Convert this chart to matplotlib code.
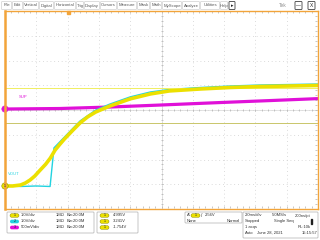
import matplotlib.pyplot as plt
from matplotlib.patches import FancyBboxPatch, Rectangle, Circle

# scope settings
TDIV = 2.0          # ms/div
T0 = -4.0           # ms at left edge of graticule
CH_VDIV = {1: 1.0, 2: 1.0, 3: 0.5}      # V/div
CH_POS = {1: -3.07, 2: -3.07, 3: 0.04}  # ground position, div
TRIG_LEVEL = 2.56
CURSOR_LEVEL = 3.96

# traces (ms, V)
t_ch1 = [-4.0, -3.5, -3.0, -2.7, -2.4, -2.1, -1.8, -1.4, -1.1, -0.8, -0.5,
         -0.2, 0.3, 0.8, 1.3, 1.8, 2.7, 4.0, 5.3, 6.5, 8.5, 10.4, 12.3, 14.2, 16.0]
v_ch1 = [0.0, 0.0, 0.04, 0.12, 0.24, 0.40, 0.61, 0.88, 1.13, 1.45, 1.68,
         1.90, 2.23, 2.55, 2.80, 2.99, 3.23, 3.52, 3.72, 3.84, 3.92, 3.98, 4.02, 4.04, 4.06]

t_ch2 = [-4.0, -3.0, -2.0, -1.12, -0.87, -0.2, 0.8, 1.8, 2.7, 4.0, 5.3, 6.5,
         8.5, 10.4, 12.3, 14.2, 16.0]
v_ch2 = [0.0, -0.02, 0.0, -0.02, 1.54, 1.98, 2.63, 3.07, 3.31, 3.60, 3.80, 3.90,
         3.98, 4.04, 4.08, 4.10, 4.12]

t_ch3 = [-4.0, -0.5, 2.7, 5.9, 9.7, 12.9, 16.0]
v_ch3 = [0.0, 0.01, 0.04, 0.08, 0.13, 0.17, 0.21]

menu_items = ["File", "Edit", "Vertical", "Digital", "Horizontal", "Trig", "Display",
              "Cursors", "Measure", "Mask", "Math", "MyScope", "Analyze", "Utilities", "Help"]
menu_edges = [1, 12, 23, 39, 54, 76, 84, 100, 117, 137, 150, 162, 182, 200, 220, 228]

ch_labels = ["1.0V/div", "1.0V/div", "500mV/div"]
meas_values = ["4.995V", "3.241V", "-1.754V"]

COL = {1: "#ECE000", 2: "#22D3E0", 3: "#E010D8"}
ORANGE = "#F2A43A"
FONT = ["Liberation Sans", "DejaVu Sans"]

fig = plt.figure(figsize=(3.2, 2.4), dpi=100)
fig.patch.set_facecolor("white")
rect = [5 / 320, 31 / 240, 313 / 320, 198 / 240]

# graticule
grid = fig.add_axes(rect)
grid.set_xlim(-5, 5)
grid.set_ylim(-4, 4)
grid.set_xticks(range(-5, 6))
grid.set_yticks(range(-4, 5))
grid.grid(True, color="#CFCFCF", linestyle=(0, (1, 3.5)), linewidth=0.6)
grid.tick_params(length=0, labelbottom=False, labelleft=False)
for s in grid.spines.values():
    s.set_visible(False)
grid.axhline(0, color="#D8D8D8", lw=0.5)
grid.axvline(0, color="#D8D8D8", lw=0.5)
minor = [i / 5 for i in range(-25, 26)]
grid.plot(minor, [0] * len(minor), "|", color="#B0B0B0", ms=2.0, mew=0.5)
minor_y = [i / 5 for i in range(-20, 21)]
grid.plot([0] * len(minor_y), minor_y, "_", color="#B0B0B0", ms=2.0, mew=0.5)
grid.plot(minor, [3.97] * len(minor), "|", color="#B0B0B0", ms=1.6, mew=0.5)
grid.plot(minor, [-3.93] * len(minor), "|", color="#B0B0B0", ms=1.6, mew=0.5)
grid.plot([4.95] * len(minor_y), minor_y, "_", color="#B0B0B0", ms=1.6, mew=0.5)


def chan_axes(ch, z):
    a = fig.add_axes(rect, facecolor="none", label="ch%d" % ch, zorder=z)
    a.set_xlim(T0, T0 + 10 * TDIV)
    a.set_ylim((-4 - CH_POS[ch]) * CH_VDIV[ch], (4 - CH_POS[ch]) * CH_VDIV[ch])
    a.axis("off")
    return a


a3 = chan_axes(3, 2)
a3.plot(t_ch3, v_ch3, color=COL[3], lw=2.3, solid_capstyle="butt")
a2 = chan_axes(2, 3)
a2.plot(t_ch2, v_ch2, color=COL[2], lw=1.0)
a1 = chan_axes(1, 4)
a1.axhline(CURSOR_LEVEL, color="#F0EE60", lw=0.7)
a1.axhline(TRIG_LEVEL, color="#C9C66A", lw=0.7)
a1.plot(t_ch1, v_ch1, color=COL[1], lw=2.6, solid_capstyle="butt")

# overlay in screen pixels
ov = fig.add_axes([0, 0, 1, 1], facecolor="none", zorder=10)
ov.set_xlim(0, 320)
ov.set_ylim(240, 0)
ov.axis("off")


def txt(x, y, s, color="#303030", size=3.3, ha="left", weight="normal"):
    ov.text(x, y, s, fontsize=size, color=color, ha=ha, va="center",
            family=FONT, weight=weight)


def box(x0, y0, x1, y1, ec="#B0B0B0", fc="white", lw=0.5, r=0.8):
    ov.add_patch(FancyBboxPatch((x0, y0), x1 - x0, y1 - y0,
                                boxstyle="round,pad=0,rounding_size=%g" % r,
                                ec=ec, fc=fc, lw=lw))


def badge(x, y, n, col):
    ov.add_patch(FancyBboxPatch((x, y - 1.8), 9, 3.6,
                                boxstyle="round,pad=0,rounding_size=1.8",
                                ec="#808000" if n == 1 else "none", fc=col, lw=0.3))
    txt(x + 4.5, y, str(n), color="#202020", size=2.6, ha="center")


# menu bar
for lab, x0, x1 in zip(menu_items, menu_edges[:-1], menu_edges[1:]):
    box(x0 + 0.5, 1.5, x1 - 0.5, 9.5, ec="#D0D0D0")
    txt((x0 + x1) / 2, 5.5, lab, ha="center", size=3.1, color="#555555")
box(229, 1.5, 235, 9.5, ec="#404040", lw=0.6)
txt(232, 5.5, "▸", ha="center", size=3.5, color="#202020")
txt(283, 5.5, "Tek", ha="center", size=3.5, color="#909090")
box(295, 1.5, 302, 9.5, ec="#404040", lw=0.6)
txt(298.5, 5.8, "—", ha="center", size=3.5, color="#202020")
box(308, 1.5, 315, 9.5, ec="#404040", lw=0.6)
txt(311.5, 5.5, "X", ha="center", size=3.5, color="#202020")

# graticule frame
ov.plot([5, 318], [11, 11], color=ORANGE, lw=1.0)
ov.plot([5, 318], [209, 209], color=ORANGE, lw=1.0)
ov.plot([318, 318], [11, 209], color=ORANGE, lw=1.0)
ov.plot([5, 5], [11, 209], color=ORANGE, lw=1.8)
ov.add_patch(Rectangle((66.5, 10.5), 3, 3, color=ORANGE))

# ground markers and trace labels
for y, col, n in [(109, COL[3], "3"), (186, COL[1], "1")]:
    ov.add_patch(Circle((5, y), 3.2, fc=col, ec="#909000" if n == "1" else col, lw=0.4))
    txt(5, y, n if n == "1" else "", size=2.6, ha="center", color="#202020")
txt(19, 97, "SUP", color=COL[3], size=3.0)
txt(8, 174, "VOUT", color=COL[2], size=3.0)

# channel panel
box(7, 212, 94, 233)
for i, (lab, col) in enumerate(zip(ch_labels, [COL[1], COL[2], COL[3]])):
    y = 215.5 + 6 * i
    badge(10, y, i + 1, col)
    txt(21, y, lab, size=3.0)
    txt(56, y, "1MΩ", size=3.0)
    txt(66.5, y, "Bw:20.0M", size=3.0)

# measurement panel
box(97, 212, 138, 233)
for i, val in enumerate(meas_values):
    y = 215.5 + 6 * i
    badge(100, y, 1, COL[1])
    txt(113, y, val, size=3.0)

# trigger panel
box(185, 212, 242, 223)
txt(187, 215.5, "A'", size=3.0)
badge(191, 215.5, 1, COL[1])
txt(201, 215.5, "/", size=3.4)
txt(205, 215.5, "%.2fV" % TRIG_LEVEL, size=3.0)
txt(187, 221, "None", size=3.0)
txt(240, 221, "Normal", size=3.0, ha="right")

# acquisition panel
box(243, 212, 318, 238)
txt(245, 215.5, "%.1fms/div" % TDIV, size=3.0)
txt(272, 215.5, "5.0MS/s", size=3.0)
txt(311, 215.5, "200ns/pt", size=3.0, ha="right")
txt(245, 221, "Stopped", size=3.0)
txt(274, 221, "Single Seq", size=3.0)
ov.add_patch(Rectangle((310.5, 219), 1.3, 4.5, color="#202020"))
txt(245, 227, "1 acqs", size=3.0)
txt(311, 227, "RL:10k", size=3.0, ha="right")
txt(245, 233, "Auto", size=3.0)
txt(257, 233, "June 28, 2021", size=3.0)
txt(317, 233, "15:15:57", size=3.0, ha="right")

fig.savefig("out.png", dpi=100)
